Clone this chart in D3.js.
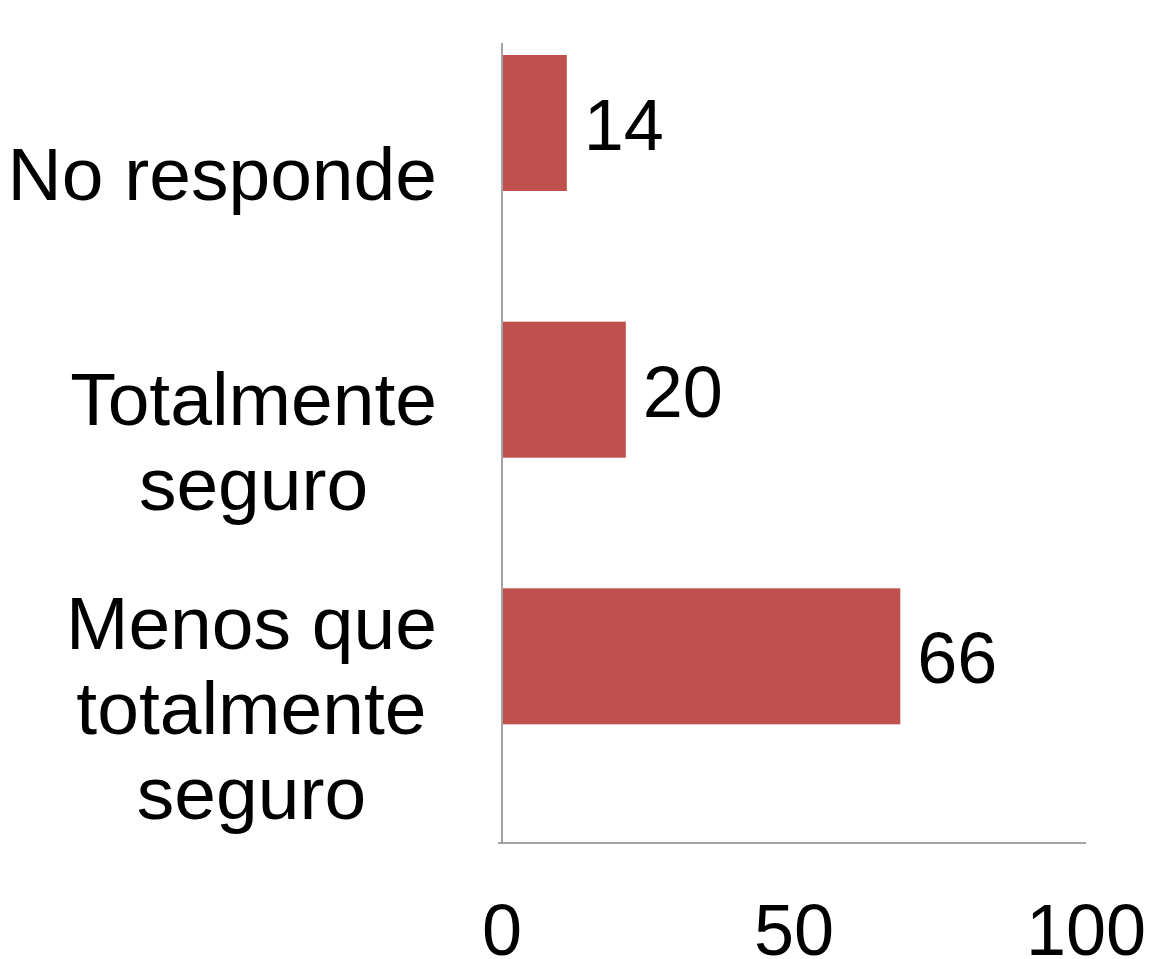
<!DOCTYPE html>
<html>
<head>
    <meta charset="utf-8">
    <title>Seguridad</title>
    <script src="https://cdn.jsdelivr.net/npm/d3@7"></script>
    <style>
        body { margin: 0; background: #fff; }
        text { font-family: "Liberation Sans", Arial, sans-serif; fill: #000; }
    </style>
</head>
<body>
<script>
    // categories, top to bottom (each entry is the lines of the label)
    var categories = [
        ["No responde"],
        ["Totalmente", "seguro"],
        ["Menos que", "totalmente", "seguro"]
    ];
    // bar lengths as drawn, and the data labels printed beside them
    var barValues = [11.1, 21.2, 68.2];
    var valueLabels = ["14", "20", "66"];
    var xTicks = [0, 50, 100];

    var width = 1149, height = 959;
    var margin = {top: 43, left: 502, right: 63, bottom: 116};
    var fontSize = 72, catFontSize = 75, lineH = 85;

    var svg = d3.select("body").append("svg")
        .attr("width", width)
        .attr("height", height);

    var x = d3.scaleLinear()
        .domain([0, 100])
        .range([margin.left, width - margin.right]);

    // one band per category, labels are centered on it
    var y = d3.scaleBand()
        .domain(d3.range(categories.length))
        .range([margin.top, height - margin.bottom]);

    var barH = y.step() * 0.51,
        barOff = y.step() * 0.045;

    // bars
    svg.selectAll("rect.bar")
        .data(barValues)
        .enter().append("rect")
        .attr("class", "bar")
        .attr("x", x(0) + 1)
        .attr("y", function (d, i) { return y(i) + barOff; })
        .attr("width", function (d) { return x(d) - x(0) - 1; })
        .attr("height", barH)
        .attr("fill", "#C0504D");

    // value labels
    svg.selectAll("text.val")
        .data(barValues)
        .enter().append("text")
        .attr("class", "val")
        .attr("x", function (d) { return x(d) + 17; })
        .attr("y", function (d, i) { return y(i) + barOff + barH / 2 + 27; })
        .style("font-size", fontSize + "px")
        .text(function (d, i) { return valueLabels[i]; });

    // axis lines
    svg.append("line")
        .attr("x1", x(0)).attr("x2", x(0))
        .attr("y1", margin.top).attr("y2", height - margin.bottom)
        .attr("stroke", "#868686").attr("stroke-width", 1.5);
    svg.append("line")
        .attr("x1", x(0) - 4).attr("x2", x(100))
        .attr("y1", height - margin.bottom).attr("y2", height - margin.bottom)
        .attr("stroke", "#868686").attr("stroke-width", 1.5);

    // x tick labels
    svg.selectAll("text.tick")
        .data(xTicks)
        .enter().append("text")
        .attr("class", "tick")
        .attr("x", function (d) { return x(d); })
        .attr("y", 955)
        .attr("text-anchor", "middle")
        .style("font-size", fontSize + "px")
        .text(function (d) { return d; });

    // category labels: lines centered, block right-aligned
    var labelRight = 437;
    categories.forEach(function (lines, i) {
        var cy = y(i) + y.bandwidth() / 2;
        var g = svg.append("g");
        var texts = lines.map(function (t, k) {
            return g.append("text")
                .attr("y", cy + 24 - (lines.length - 1) * lineH / 2 + k * lineH)
                .attr("text-anchor", "middle")
                .style("font-size", catFontSize + "px")
                .text(t);
        });
        var maxW = d3.max(texts, function (t) { return t.node().getComputedTextLength(); });
        texts.forEach(function (t) { t.attr("x", labelRight - maxW / 2); });
    });
</script>
</body>
</html>
